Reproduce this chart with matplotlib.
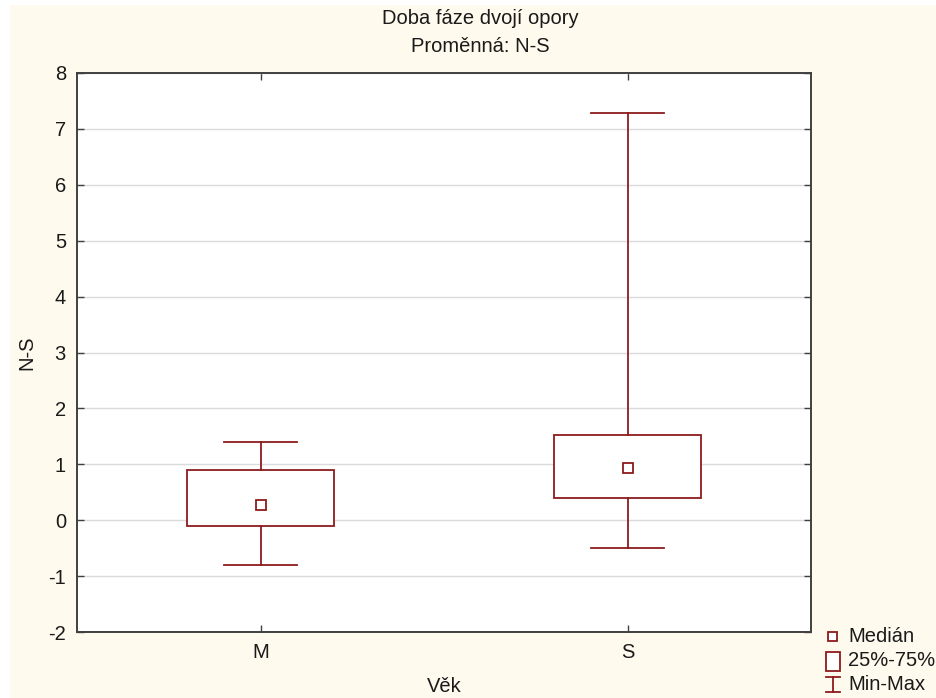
import matplotlib
matplotlib.use("Agg")
from matplotlib import pyplot as plt
from matplotlib.patches import Rectangle

plt.rcParams['font.family'] = ['Liberation Sans', 'DejaVu Sans']

groups = ["M", "S"]
mins = [-0.8, -0.5]
q1s = [-0.1, 0.4]
medians = [0.28, 0.93]
q3s = [0.9, 1.53]
maxs = [1.4, 7.28]
yticks = [-2, -1, 0, 1, 2, 3, 4, 5, 6, 7, 8]

red = '#8E1B1B'
cream = '#FFFAEE'
fs = 14.5

fig = plt.figure(figsize=(9.37, 6.98), dpi=100, facecolor='white')
fig.patches.append(Rectangle((10/937, 0), 1, 1 - 5/698, transform=fig.transFigure,
                             facecolor=cream, edgecolor='none', zorder=-10))

ax = fig.add_axes([77/937, 66/698, 734/937, 559/698])
ax.set_facecolor('white')

stats = []
for g, lo, a, m, b, hi in zip(groups, mins, q1s, medians, q3s, maxs):
    stats.append(dict(label=g, whislo=lo, q1=a, med=m, q3=b, whishi=hi))

pos = [1, 2]
ax.bxp(stats, positions=pos, widths=0.4, capwidths=0.2, showfliers=False,
       patch_artist=True,
       boxprops=dict(facecolor='white', edgecolor=red, linewidth=1.3),
       whiskerprops=dict(color=red, linewidth=1.3),
       capprops=dict(color=red, linewidth=1.3),
       medianprops=dict(linewidth=0), zorder=3)
ax.plot(pos, medians, 's', ms=7, mfc='white', mec=red, mew=1.3, zorder=4)

ax.set_xlim(0.5, 2.5)
ax.set_ylim(-2, 8)
ax.set_yticks(yticks)
ax.set_yticklabels([str(t) for t in yticks])
ax.set_xticks(pos)
ax.set_xticklabels(groups)
ax.yaxis.grid(True, color='#DADADA', linewidth=1)
ax.set_axisbelow(True)
ax.tick_params(direction='in', top=True, right=True, length=5, width=1,
               colors='#404040', labelcolor='#1a1a1a', labelsize=fs, pad=8)
for s in ax.spines.values():
    s.set_color('#404040')
    s.set_linewidth(1.4)

ax.set_ylabel("N-S", fontsize=fs, color='#1a1a1a', va='center')
ax.yaxis.set_label_coords(-0.068, 0.5)
ax.set_xlabel("Věk", fontsize=fs, color='#1a1a1a', va='center')
ax.xaxis.set_label_coords(0.501, -0.097)

fig.text(480/937, 1 - 18/698, "Doba fáze dvojí opory", ha='center', va='center',
         fontsize=fs, color='#1a1a1a')
fig.text(480/937, 1 - 46/698, "Proměnná: N-S", ha='center', va='center',
         fontsize=fs, color='#1a1a1a')

# legend drawn in a small axes with pixel-like coordinates
lax = fig.add_axes([820/937, 0, 117/937, 70/698])
lax.set_xlim(820, 937)
lax.set_ylim(698, 628)
lax.axis('off')
lax.add_patch(Rectangle((828.5, 631.5), 9, 9, facecolor='white', edgecolor=red, lw=1.3))
lax.add_patch(Rectangle((826, 652), 14, 19, facecolor='white', edgecolor=red, lw=1.3))
lax.plot([833, 833], [677, 692], color=red, lw=1.3)
lax.plot([826, 840], [677, 677], color=red, lw=1.3)
lax.plot([826, 840], [692, 692], color=red, lw=1.3)
for ty, txt in zip([636, 661, 684], ["Medián", "25%-75%", "Min-Max"]):
    lax.text(848, ty, txt, ha='left', va='center', fontsize=fs, color='#1a1a1a')

fig.savefig("out.png", dpi=100, facecolor=fig.get_facecolor())
